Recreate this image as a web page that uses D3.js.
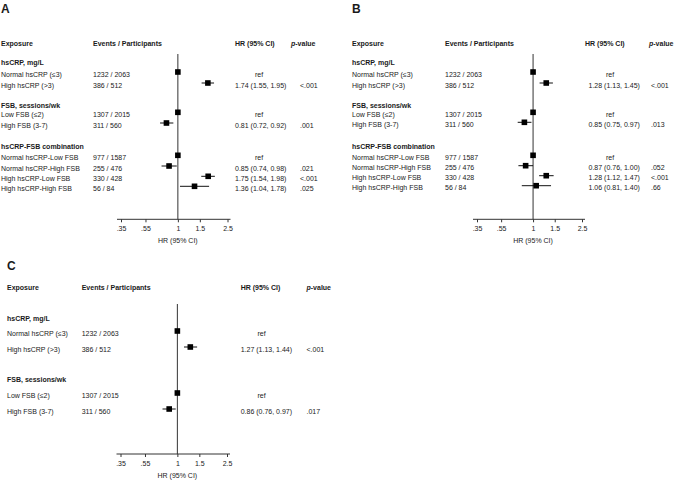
<!DOCTYPE html>
<html><head><meta charset="utf-8">
<script src="https://cdn.jsdelivr.net/npm/d3@7"></script>
<style>
body{margin:0;background:#fff}
text{font-family:"Liberation Sans",Arial,Helvetica,sans-serif;fill:#1a1a1a}
</style>
</head><body>
<svg id="chart" width="677" height="480"></svg>
<script>
// ---------- DATA ----------
const panelLetters = ["A", "B", "C"];
const headers = ["Exposure", "Events / Participants", "HR (95% CI)", "-value"];
const sectionTitles = ["hsCRP, mg/L", "FSB, sessions/wk", "hsCRP-FSB combination"];
const rowLabels = ["Normal hsCRP (\u22643)", "High hsCRP (>3)", "Low FSB (\u22642)", "High FSB (3-7)",
  "Normal hsCRP-Low FSB", "Normal hsCRP-High FSB", "High hsCRP-Low FSB", "High hsCRP-High FSB"];
const rowSection = [0, 0, 1, 1, 2, 2, 2, 2];
const eventsText = ["1232 / 2063", "386 / 512", "1307 / 2015", "311 / 560", "977 / 1587", "255 / 476", "330 / 428", "56 / 84"];

const hrA = [1, 1.74, 1, 0.81, 1, 0.85, 1.75, 1.36];
const loA = [null, 1.55, null, 0.72, null, 0.74, 1.54, 1.04];
const hiA = [null, 1.95, null, 0.92, null, 0.98, 1.98, 1.78];
const pA = ["", "<.001", "", ".001", "", ".021", "<.001", ".025"];

const hrB = [1, 1.28, 1, 0.85, 1, 0.87, 1.28, 1.06];
const loB = [null, 1.13, null, 0.75, null, 0.76, 1.12, 0.81];
const hiB = [null, 1.45, null, 0.97, null, 1.00, 1.47, 1.40];
const pB = ["", "<.001", "", ".013", "", ".052", "<.001", ".66"];

const hrC = [1, 1.27, 1, 0.86];
const loC = [null, 1.13, null, 0.76];
const hiC = [null, 1.44, null, 0.97];
const pC = ["", "<.001", "", ".017"];

const tickValues = [0.35, 0.55, 1, 1.5, 2.5];
const tickLabels = [".35", ".55", "1", "1.5", "2.5"];
const axisTitle = "HR (95% CI)";

// ---------- LAYOUT ----------
const FS = 7;
const panels = [
  {hr: hrA, lo: loA, hi: hiA, p: pA, n: 8, letter: [1, 13],
   cExp: 1, cEv: 93, cHRh: 235, cHR: 235, cRef: 259, cPh: 291, cP: 300,
   headY: 43, secY: [62.7, 105, 146.7], rowY: [74, 85, 114.3, 125, 157.3, 168, 178.3, 188.3],
   xr: [121, 227.5], top: 54, axisY: 219.3},
  {hr: hrB, lo: loB, hi: hiB, p: pB, n: 8, letter: [352, 13],
   cExp: 352, cEv: 445, cHRh: 585, cHR: 588.5, cRef: 610, cPh: 649, cP: 651,
   headY: 43, secY: [62.7, 105, 146.7], rowY: [74, 85, 114.3, 124.3, 157.3, 167.7, 177.7, 187.7],
   xr: [477, 582], top: 54, axisY: 219.3},
  {hr: hrC, lo: loC, hi: hiC, p: pC, n: 4, letter: [7, 270],
   cExp: 7, cEv: 81.7, cHRh: 240.7, cHR: 240.7, cRef: 261.5, cPh: 306.5, cP: 306.5,
   headY: 287.7, secY: [318, 379], rowY: [333, 349, 395, 411],
   xr: [120.5, 227], top: 304, axisY: 454}
];

const svg = d3.select("#chart");
const fmt = d3.format(".2f");

panels.forEach((P, pi) => {
  const g = svg.append("g");
  const x = d3.scaleLog().domain([tickValues[0], tickValues[tickValues.length - 1]]).range(P.xr);
  const t = (xx, yy, s, opts = {}) => g.append("text").attr("x", xx).attr("y", yy + FS * 0.36)
      .attr("font-size", opts.size || FS).attr("font-weight", opts.bold ? "bold" : null)
      .attr("text-anchor", opts.anchor || "start").text(s);

  g.append("text").attr("x", P.letter[0]).attr("y", P.letter[1]).attr("font-size", 12)
    .attr("font-weight", "bold").text(panelLetters[pi]);

  t(P.cExp, P.headY, headers[0], {bold: true});
  t(P.cEv, P.headY, headers[1], {bold: true});
  t(P.cHRh, P.headY, headers[2], {bold: true});
  const ph = t(P.cPh, P.headY, "", {bold: true});
  ph.append("tspan").attr("font-style", "italic").text("p");
  ph.append("tspan").text(headers[3]);

  const usedSecs = [...new Set(rowSection.slice(0, P.n))];
  usedSecs.forEach((s, i) => t(P.cExp, P.secY[i], sectionTitles[s], {bold: true}));

  g.append("line").attr("x1", x(1)).attr("x2", x(1)).attr("y1", P.top).attr("y2", P.axisY)
    .attr("stroke", "#333").attr("stroke-width", 1);

  for (let i = 0; i < P.n; i++) {
    const y = P.rowY[i];
    t(P.cExp, y, rowLabels[i]);
    t(P.cEv, y, eventsText[i]);
    if (P.lo[i] == null) {
      t(P.cRef, y, "ref", {anchor: "middle"});
    } else {
      t(P.cHR, y, `${fmt(P.hr[i])} (${fmt(P.lo[i])}, ${fmt(P.hi[i])})`);
      g.append("line").attr("x1", x(P.lo[i])).attr("x2", x(P.hi[i]))
        .attr("y1", y - 2).attr("y2", y - 2).attr("stroke", "#111").attr("stroke-width", 1);
    }
    if (P.p[i]) t(P.cP, y, P.p[i]);
    g.append("rect").attr("x", x(P.hr[i]) - 2.8).attr("y", y - 2 - 2.8)
      .attr("width", 5.6).attr("height", 5.6).attr("fill", "#000");
  }

  const ax = g.append("g").attr("transform", `translate(0,${P.axisY})`)
    .call(d3.axisBottom(x).tickValues(tickValues)
      .tickFormat((d, i) => tickLabels[i]).tickSize(3).tickSizeOuter(0).tickPadding(4));
  ax.select(".domain").remove();
  ax.append("line").attr("x1", P.xr[0] - 4).attr("x2", P.xr[1] + 3).attr("stroke", "#333");
  ax.selectAll(".tick line").attr("stroke", "#333");
  ax.selectAll("text").attr("font-size", FS).attr("font-family", "Liberation Sans, Arial, sans-serif")
    .attr("fill", "#1a1a1a");
  t(x(1), P.axisY + 21, axisTitle, {anchor: "middle"});
});
</script>
</body></html>
